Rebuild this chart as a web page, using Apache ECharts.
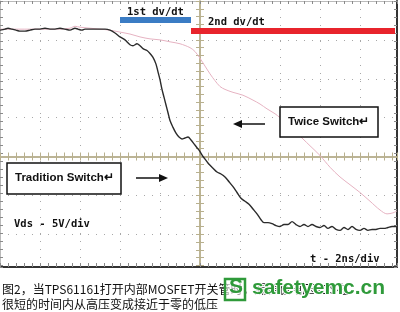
<!DOCTYPE html>
<html><head><meta charset="utf-8">
<script src="https://cdn.jsdelivr.net/npm/echarts@6/dist/echarts.min.js"></script>
<style>html,body{margin:0;padding:0;background:#fff}#c{width:400px;height:312px}</style>
</head><body><div id="c"></div>
<script>
// time in ns (2 ns/div), voltage in V (5 V/div)
const traditionSwitch = [
[-10,16.25],[-9.75,16.38],[-9.6,16.5],[-9.4,16.38],[-9.2,16.25],[-9.0,16.13],[-8.75,16.13],[-8.5,16.25],[-8.25,16.38],[-8.0,16.38],
[-7.75,16.5],[-7.5,16.38],[-7.25,16.38],[-7.0,16.5],[-6.75,16.38],[-6.5,16.25],[-6.25,16.5],[-6.1,16.38],[-5.9,16.25],[-5.75,16.38],
[-5.5,16.38],[-5.25,16.38],[-5.0,16.38],[-4.75,16.38],[-4.5,16.25],[-4.25,15.88],[-4.0,15.38],[-3.75,15.0],[-3.5,14.38],[-3.35,14.25],
[-3.15,14.5],[-3.0,14.25],[-2.85,13.88],[-2.65,13.63],[-2.5,13.25],[-2.35,12.75],[-2.2,11.88],[-2.1,10.88],[-2.0,9.88],[-1.9,8.63],
[-1.8,7.63],[-1.7,6.63],[-1.6,5.63],[-1.5,4.63],[-1.35,3.75],[-1.2,3.0],[-1.05,2.5],[-0.9,2.25],[-0.75,2.38],[-0.6,2.5],
[-0.45,2.13],[-0.3,1.63],[-0.15,1.13],[0,0.63],[0.15,0],[0.3,-0.5],[0.45,-1.0],[0.65,-1.5],[0.85,-2.0],[1.05,-2.25],
[1.25,-2.63],[1.45,-3.25],[1.65,-3.88],[1.85,-4.63],[2.05,-5.38],[2.25,-5.75],[2.45,-6.13],[2.65,-6.75],[2.85,-7.38],[3.05,-8.13],
[3.2,-8.5],[3.4,-8.5],[3.6,-8.63],[3.8,-8.88],[4.0,-9.0],[4.2,-8.75],[4.4,-8.75],[4.6,-8.38],[4.8,-8.75],[5.0,-9.0],
[5.2,-8.75],[5.4,-9.0],[5.6,-8.75],[5.8,-9.0],[6.0,-9.13],[6.2,-8.88],[6.4,-9.25],[6.6,-9.0],[6.8,-9.38],[7.0,-9.5],
[7.2,-9.13],[7.4,-9.38],[7.6,-9.0],[7.8,-9.38],[8.0,-9.5],[8.2,-9.25],[8.4,-9.5],[8.6,-9.38],[8.8,-9.38],[9.0,-9.25],
[9.2,-9.25],[9.4,-9.13],[9.6,-9.0],[9.8,-9.0]
];
const twiceSwitch = [
[-10,16.38],[-9,16.38],[-8,16.38],[-7,16.38],[-6.5,16.5],[-6.25,16.75],[-6.0,16.63],[-5.5,16.5],[-5.0,16.38],[-4.5,16.25],
[-4.0,16.0],[-3.5,15.75],[-3.0,15.38],[-2.5,15.13],[-2.0,15.0],[-1.5,14.75],[-1.0,14.5],[-0.5,14.0],[-0.25,13.5],[0,12.63],
[0.25,11.63],[0.5,10.63],[0.75,9.75],[1.0,9.0],[1.25,8.63],[1.65,8.25],[2.15,7.88],[2.65,7.25],[3.0,6.75],[3.35,6.13],
[3.75,5.5],[4.0,5.0],[4.35,4.25],[4.75,3.25],[5.15,2.25],[5.5,1.38],[6.0,0.13],[6.5,-1.38],[7.0,-2.63],[7.5,-3.63],
[8.0,-4.63],[8.5,-5.75],[9.0,-6.88],[9.35,-7.38],[9.65,-7.25],[9.85,-7.0]
];
const labels = {
  first: '1st dv/dt', second: '2nd dv/dt', twice: 'Twice Switch', tradition: 'Tradition Switch',
  vScale: 'Vds - 5V/div', tScale: 't - 2ns/div',
  cap1: '图2，当TPS61161打开内部MOSFET开关管时，漏源极电压VDS在',
  cap2: '很短的时间内从高压变成接近于零的低压',
  mark: 'safetyemc.cn'
};

const tan = '#b8b08e', edge = '#8a8a8a';
const xBase = {type:'value', min:-10, max:9.85, interval:2, axisLabel:{show:false}, splitLine:{show:false}};
const yBase = {type:'value', min:-20, max:20, interval:5, axisLabel:{show:false}, splitLine:{show:false}};
// frame axis: visible screen runs from +20 V (top) down to -13.25 V (bottom edge of the crop)
const yFrame = {type:'value', min:-20, max:13.25, interval:5, inverse:true, axisLabel:{show:false}, splitLine:{show:false}};
const tick = (c,len,inside)=>({axisTick:{show:true,length:len,inside:inside,lineStyle:{color:c,width:1}},
  minorTick:{show:true,splitNumber:5,length:len,lineStyle:{color:c,width:1}}});

const chart = echarts.init(document.getElementById('c'), null, {renderer:'canvas'});
chart.setOption({
  animation:false,
  backgroundColor:'#fff',
  grid:[
    {left:0, top:1, width:397, height:320, show:false},
    {left:0, top:1, width:397, height:266, show:false}
  ],
  xAxis:[
    Object.assign({}, xBase, tick(tan,4,false), {gridIndex:0, position:'bottom', axisLine:{onZero:true, lineStyle:{color:tan,width:1.5}},
      splitLine:{show:true, lineStyle:{color:'#a8a8a8', type:[1,7], width:1}}}),
    Object.assign({}, xBase, tick(tan,4,false), {gridIndex:0, position:'top', axisLine:{onZero:true, lineStyle:{color:tan,width:1.5}}}),
    Object.assign({}, xBase, tick(edge,3,true), {gridIndex:1, position:'top', axisLine:{onZero:false, lineStyle:{color:'#bbb',width:1}}}),
    Object.assign({}, xBase, tick(edge,4,true), {gridIndex:1, position:'bottom', axisLine:{onZero:false, lineStyle:{color:'#333',width:2}}})
  ],
  yAxis:[
    Object.assign({}, yBase, tick(tan,4,false), {gridIndex:0, position:'left', axisLine:{onZero:true, lineStyle:{color:tan,width:1.5}},
      splitLine:{show:true, lineStyle:{color:'#a8a8a8', type:[1,7], width:1}}}),
    Object.assign({}, yBase, tick(tan,4,false), {gridIndex:0, position:'right', axisLine:{onZero:true, lineStyle:{color:tan,width:1.5}}}),
    Object.assign({}, yFrame, tick(edge,3,true), {gridIndex:1, position:'left', axisLine:{onZero:false, lineStyle:{color:'#bbb',width:1}}}),
    Object.assign({}, yFrame, tick(edge,3,true), {gridIndex:1, position:'right', axisLine:{onZero:false, lineStyle:{color:'#333',width:2}}})
  ],
  series:[
    {type:'line', name:labels.twice, data:twiceSwitch, xAxisIndex:0, yAxisIndex:0, showSymbol:false, smooth:0.3,
      lineStyle:{color:'#e6b3c2', width:1}, z:3},
    {type:'line', name:labels.tradition, data:traditionSwitch, xAxisIndex:0, yAxisIndex:0, showSymbol:false, smooth:0.3,
      lineStyle:{color:'#2b2b2b', width:1.4}, z:4}
  ],
  graphic:[
    {type:'rect', shape:{x:120,y:17,width:71,height:6}, style:{fill:'#3b7cc4'}, z:10},
    {type:'text', left:127, top:7, style:{text:labels.first, font:'bold 10.5px "DejaVu Sans Mono"', fill:'#111'}, z:10},
    {type:'rect', shape:{x:191,y:28,width:204,height:6}, style:{fill:'#e8242c'}, z:10},
    {type:'text', left:208, top:17, style:{text:labels.second, font:'bold 10.5px "DejaVu Sans Mono"', fill:'#111'}, z:10},

    {type:'rect', shape:{x:280,y:107,width:98,height:30}, style:{fill:'#fff', stroke:'#111', lineWidth:1.5}, z:10},
    {type:'text', left:288, top:116, style:{text:labels.twice + '\u21b5', font:'bold 11.5px "Liberation Sans"', fill:'#111'}, z:11},
    {type:'line', shape:{x1:240,y1:124,x2:265,y2:124}, style:{stroke:'#111', lineWidth:1.5}, z:10},
    {type:'polygon', shape:{points:[[233,124],[242,120],[242,128]]}, style:{fill:'#111'}, z:10},

    {type:'rect', shape:{x:7,y:163,width:114,height:31}, style:{fill:'#fff', stroke:'#111', lineWidth:1.5}, z:10},
    {type:'text', left:15, top:172, style:{text:labels.tradition + '\u21b5', font:'bold 11.5px "Liberation Sans"', fill:'#111'}, z:11},
    {type:'line', shape:{x1:136,y1:178,x2:161,y2:178}, style:{stroke:'#111', lineWidth:1.5}, z:10},
    {type:'polygon', shape:{points:[[168,178],[159,174],[159,182]]}, style:{fill:'#111'}, z:10},

    {type:'text', left:14, top:219, style:{text:labels.vScale, font:'bold 10.5px "DejaVu Sans Mono"', fill:'#111'}, z:10},
    {type:'text', left:310, top:254, style:{text:labels.tScale, font:'bold 10.5px "DejaVu Sans Mono"', fill:'#111'}, z:10},

    {type:'rect', shape:{x:0,y:268,width:400,height:44}, style:{fill:'#fff'}, z:20},
    {type:'text', left:2, top:283, style:{text:labels.cap1, font:'12px "Noto Sans CJK SC"', fill:'#111'}, z:21},
    {type:'text', left:2, top:298, style:{text:labels.cap2, font:'12px "Noto Sans CJK SC"', fill:'#111'}, z:21},
    {type:'rect', shape:{x:225,y:279,width:20,height:21}, style:{fill:'rgba(255,255,255,0.6)', stroke:'#2f9a3a', lineWidth:2.5}, z:22},
    {type:'text', left:229, top:277, style:{text:'S', font:'bold 21px "Liberation Sans"', fill:'#2f9a3a'}, z:23},
    {type:'text', left:251, top:277, style:{text:labels.mark, font:'bold 21px "Liberation Sans"', fill:'#2f9a3a',
      stroke:'#fff', lineWidth:2}, z:23}
  ]
});
</script></body></html>
